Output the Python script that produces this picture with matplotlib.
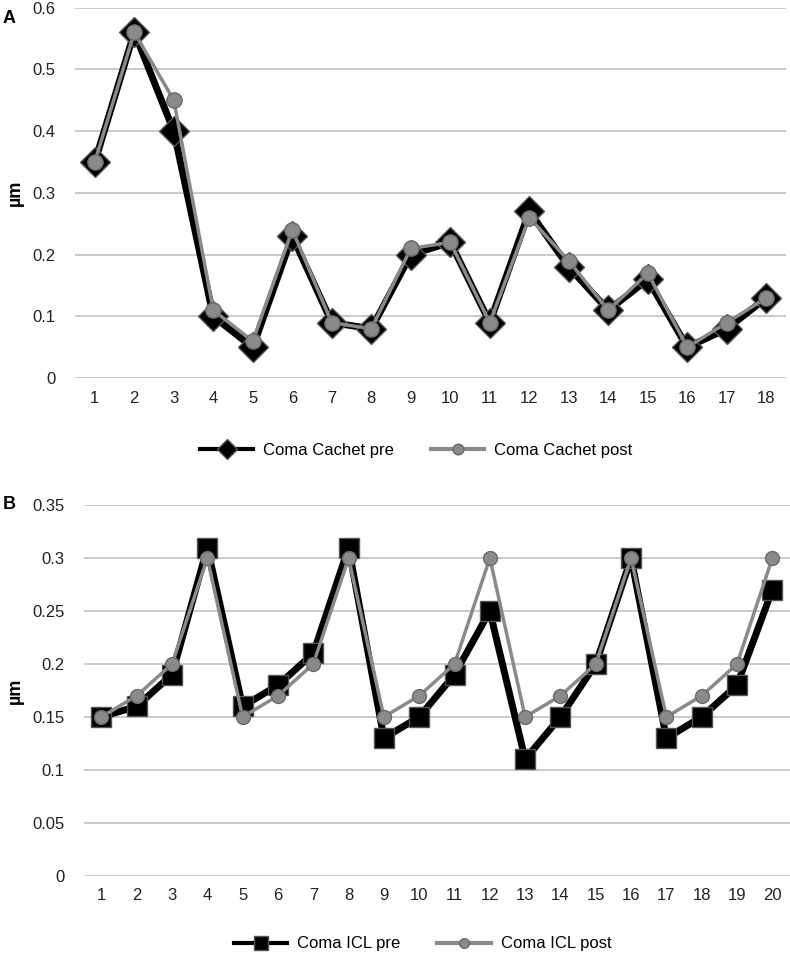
import numpy as np
import matplotlib
matplotlib.use("Agg")
import matplotlib.pyplot as plt

# panel A - coma, Cachet
cases_a = list(range(1, 19))
cachet_pre = [0.35, 0.56, 0.40, 0.10, 0.05, 0.23, 0.09, 0.08, 0.20, 0.22,
              0.09, 0.27, 0.18, 0.11, 0.16, 0.05, 0.08, 0.13]
cachet_post = [0.35, 0.56, 0.45, 0.11, 0.06, 0.24, 0.09, 0.08, 0.21, 0.22,
               0.09, 0.26, 0.19, 0.11, 0.17, 0.05, 0.09, 0.13]

# panel B - coma, ICL
cases_b = list(range(1, 21))
icl_pre = [0.15, 0.16, 0.19, 0.31, 0.16, 0.18, 0.21, 0.31, 0.13, 0.15,
           0.19, 0.25, 0.11, 0.15, 0.20, 0.30, 0.13, 0.15, 0.18, 0.27]
icl_post = [0.15, 0.17, 0.20, 0.30, 0.15, 0.17, 0.20, 0.30, 0.15, 0.17,
            0.20, 0.30, 0.15, 0.17, 0.20, 0.30, 0.15, 0.17, 0.20, 0.30]

plt.rcParams['font.family'] = ['Liberation Sans', 'DejaVu Sans']

fig = plt.figure(figsize=(7.9, 9.55), dpi=100)

GRID = '#c6c6c6'
GRAY = '#8a8a8a'


def style_axes(ax, n, ymax, ystep):
    ticks = np.round(np.arange(0, ymax + ystep / 2, ystep), 3)
    ax.set_xlim(0.5, n + 0.5)
    ax.set_ylim(0, ymax)
    ax.set_yticks(ticks)
    ax.set_yticklabels(['%g' % v for v in ticks])
    ax.set_xticks(range(1, n + 1))
    ax.grid(axis='y', color=GRID, linewidth=1.3)
    ax.set_axisbelow(True)
    for s in ax.spines.values():
        s.set_visible(False)
    ax.tick_params(length=0, labelsize=12, colors='#222222', pad=9)
    ax.tick_params(axis='y', pad=14)
    ax.set_ylabel('µm', fontsize=13, fontweight='bold', labelpad=6)


def add_legend(ax, y):
    leg = ax.legend(loc='center', bbox_to_anchor=(0.48, y), ncol=2, frameon=False,
                    fontsize=12, handlelength=3.2, markerscale=0.7, columnspacing=2.2,
                    handletextpad=0.6)
    for ln in leg.get_lines():
        ln.set_linewidth(3)
    return leg


# ---- A ----
ax1 = fig.add_axes([0.095, 0.604, 0.9, 0.388])
ax1.plot(cases_a, cachet_pre, color='black', lw=5, marker='D', ms=15,
         mfc='black', mec='#555555', mew=1, label='Coma Cachet pre', zorder=3)
ax1.plot(cases_a, cachet_post, color=GRAY, lw=2.5, marker='o', ms=11,
         mfc=GRAY, mec='#6a6a6a', mew=1, label='Coma Cachet post', zorder=4)
style_axes(ax1, 18, 0.6, 0.1)
add_legend(ax1, -0.195)
fig.text(0.003, 0.981, 'A', fontsize=13, fontweight='bold', va='center')

# ---- B ----
ax2 = fig.add_axes([0.106, 0.083, 0.894, 0.388])
ax2.plot(cases_b, icl_pre, color='black', lw=5, marker='s', ms=15,
         mfc='black', mec='#555555', mew=1, label='Coma ICL pre', zorder=3)
ax2.plot(cases_b, icl_post, color=GRAY, lw=2.5, marker='o', ms=10,
         mfc=GRAY, mec='#6a6a6a', mew=1, label='Coma ICL post', zorder=4)
style_axes(ax2, 20, 0.35, 0.05)
add_legend(ax2, -0.184)
fig.text(0.003, 0.472, 'B', fontsize=13, fontweight='bold', va='center')

fig.savefig('out.png', dpi=100, facecolor='white')
